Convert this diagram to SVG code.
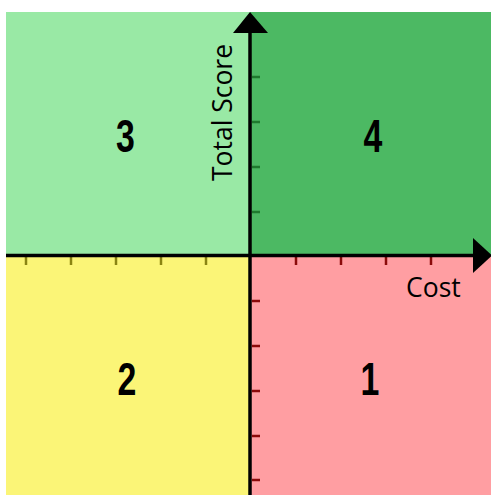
<svg xmlns="http://www.w3.org/2000/svg" width="491" height="495" viewBox="0 0 491 495">
<style>
.num{font-family:"Liberation Sans Narrow","Liberation Sans",Arial,sans-serif;font-weight:bold;font-size:47px;fill:#000;text-anchor:middle}
.lbl{font-family:"Open Sans","Noto Sans",sans-serif;font-size:26.5px;fill:#000}
.axis{stroke:#000;stroke-width:3.5;fill:none}
.tg{stroke:#1f7a2e;stroke-width:2.5}
.tr{stroke:#8b0a0a;stroke-width:2.5}
.ty{stroke:#8a8412;stroke-width:2.5}
</style>
<rect width="491" height="495" fill="#fff"/>
<g id="q3"><rect x="6" y="12" width="244" height="244" fill="#99e9a5"/><text class="num" transform="translate(125.5,152) scale(0.72,1)">3</text></g>
<g id="q4"><rect x="250" y="12" width="241" height="244" fill="#4cb963"/><text class="num" transform="translate(373,152) scale(0.72,1)">4</text></g>
<g id="q2"><rect x="6" y="256" width="244" height="239" fill="#fbf577"/><text class="num" transform="translate(127,395) scale(0.72,1)">2</text></g>
<g id="q1"><rect x="250" y="256" width="241" height="239" fill="#ff9ea2"/><text class="num" transform="translate(370,395) scale(0.72,1)">1</text></g>
<g id="connectors">
<g class="ty"><line x1="26" y1="257" x2="26" y2="265"/><line x1="71" y1="257" x2="71" y2="265"/><line x1="116" y1="257" x2="116" y2="265"/><line x1="161" y1="257" x2="161" y2="265"/><line x1="206" y1="257" x2="206" y2="265"/></g>
<g class="tr"><line x1="296" y1="257" x2="296" y2="265"/><line x1="341" y1="257" x2="341" y2="265"/><line x1="386" y1="257" x2="386" y2="265"/><line x1="431" y1="257" x2="431" y2="265"/>
<line x1="252" y1="301" x2="260" y2="301"/><line x1="252" y1="346" x2="260" y2="346"/><line x1="252" y1="391" x2="260" y2="391"/><line x1="252" y1="436" x2="260" y2="436"/><line x1="252" y1="480" x2="260" y2="480"/></g>
<g class="tg"><line x1="252" y1="77" x2="260" y2="77"/><line x1="252" y1="122" x2="260" y2="122"/><line x1="252" y1="167" x2="260" y2="167"/><line x1="252" y1="212" x2="260" y2="212"/></g>
<line class="axis" x1="6" y1="255.5" x2="476" y2="255.5"/>
<line class="axis" x1="250" y1="495" x2="250" y2="30"/>
<polygon points="473,238 473,273 492,255.5" fill="#000"/>
<polygon points="250,12 233,33 268,33" fill="#000"/>
</g>
<text class="lbl" x="406" y="297">Cost</text>
<text class="lbl" transform="translate(232,112.5) rotate(-90)" text-anchor="middle">Total Score</text>
</svg>
